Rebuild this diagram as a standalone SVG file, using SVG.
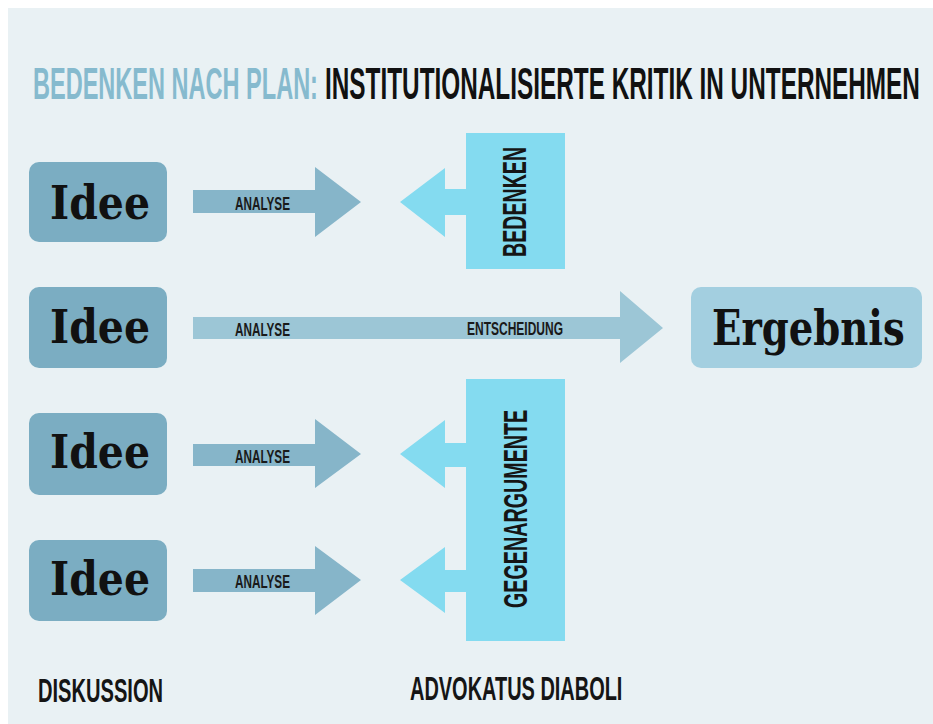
<svg xmlns="http://www.w3.org/2000/svg" width="933" height="724" viewBox="0 0 933 724">
<style>
.cond{font-family:"Liberation Sans",Arial,sans-serif;font-weight:bold;}
.slab{font-family:"DejaVu Serif","Liberation Serif",serif;font-weight:bold;fill:#111;}
.idee{fill:#7badc2;}
.an{fill:#86b5c9;}
.ent{fill:#9cc6d6;}
.cy{fill:#84dbf0;}
.lbl{font-size:18px;fill:#1a1a1a;}
.big{font-size:33px;fill:#151515;}
</style>
<rect x="0" y="0" width="933" height="724" fill="#ffffff"/>
<rect x="8" y="8" width="925" height="716" fill="#e9f1f4"/>
<g id="title">
<text class="cond" transform="translate(33,99) scale(0.52,1)" x="0" y="0" font-size="45" fill="#86bace" textLength="548" lengthAdjust="spacingAndGlyphs">BEDENKEN NACH PLAN:</text>
<text class="cond" transform="translate(325,99) scale(0.535,1)" x="0" y="0" font-size="45" fill="#111" textLength="1112" lengthAdjust="spacingAndGlyphs">INSTITUTIONALISIERTE KRITIK IN UNTERNEHMEN</text>
</g>
<g id="connectors">
<polygon class="an" points="193,190 315,190 315,167 361,202 315,237 315,213 193,213"/>
<polygon class="ent" points="193,317 620,317 620,291 663,328 620,363 620,339 193,339"/>
<polygon class="an" points="193,444 315,444 315,419 361,454 315,488 315,466 193,466"/>
<polygon class="an" points="193,569 315,569 315,546 361,580 315,615 315,592 193,592"/>
<polygon class="cy" points="466,189 445,189 445,168 400,202 445,237 445,215 466,215"/>
<polygon class="cy" points="466,443 445,443 445,420 400,454 445,488 445,467 466,467"/>
<polygon class="cy" points="466,570 445,570 445,547 400,580 445,613 445,592 466,592"/>
<text class="cond lbl" transform="translate(235,210) scale(0.64,1)" textLength="86" lengthAdjust="spacingAndGlyphs">ANALYSE</text>
<text class="cond lbl" transform="translate(235,336) scale(0.64,1)" textLength="86" lengthAdjust="spacingAndGlyphs">ANALYSE</text>
<text class="cond lbl" transform="translate(467,335) scale(0.667,1)" textLength="144" lengthAdjust="spacingAndGlyphs">ENTSCHEIDUNG</text>
<text class="cond lbl" transform="translate(235,463) scale(0.64,1)" textLength="86" lengthAdjust="spacingAndGlyphs">ANALYSE</text>
<text class="cond lbl" transform="translate(235,588) scale(0.64,1)" textLength="86" lengthAdjust="spacingAndGlyphs">ANALYSE</text>
</g>
<g id="idee1">
<rect class="idee" x="29" y="162" width="138" height="80" rx="10"/>
<text class="slab" transform="translate(50,219) scale(0.855,1)" font-size="46" textLength="117" lengthAdjust="spacingAndGlyphs">Idee</text>
</g>
<g id="idee2">
<rect class="idee" x="29" y="287" width="138" height="81" rx="10"/>
<text class="slab" transform="translate(50,343) scale(0.855,1)" font-size="46" textLength="117" lengthAdjust="spacingAndGlyphs">Idee</text>
</g>
<g id="idee3">
<rect class="idee" x="29" y="413" width="138" height="82" rx="10"/>
<text class="slab" transform="translate(50,468) scale(0.855,1)" font-size="46" textLength="117" lengthAdjust="spacingAndGlyphs">Idee</text>
</g>
<g id="idee4">
<rect class="idee" x="29" y="540" width="138" height="81" rx="10"/>
<text class="slab" transform="translate(50,595) scale(0.855,1)" font-size="46" textLength="117" lengthAdjust="spacingAndGlyphs">Idee</text>
</g>
<g id="bedenken">
<rect class="cy" x="466" y="133" width="99" height="136"/>
<text class="cond big" transform="translate(526,257) rotate(-90) scale(0.595,1)" textLength="185" lengthAdjust="spacingAndGlyphs">BEDENKEN</text>
</g>
<g id="gegenargumente">
<rect class="cy" x="466" y="379" width="99" height="262"/>
<text class="cond big" transform="translate(527,608) rotate(-90) scale(0.597,1)" textLength="332" lengthAdjust="spacingAndGlyphs">GEGENARGUMENTE</text>
</g>
<g id="ergebnis">
<rect x="691" y="287" width="231" height="81" rx="10" fill="#a3cfe0"/>
<text class="slab" transform="translate(712,345) scale(0.79,1)" font-size="48" textLength="244" lengthAdjust="spacingAndGlyphs">Ergebnis</text>
</g>
<g id="diskussion">
<text class="cond big" transform="translate(38,702) scale(0.61,1)" textLength="205" lengthAdjust="spacingAndGlyphs">DISKUSSION</text>
</g>
<g id="advokatus">
<text class="cond big" transform="translate(410,700) scale(0.6,1)" textLength="354" lengthAdjust="spacingAndGlyphs">ADVOKATUS DIABOLI</text>
</g>
</svg>
